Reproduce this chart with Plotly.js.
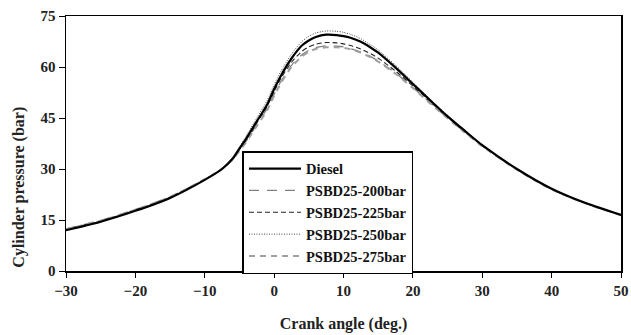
<!DOCTYPE html>
<html>
<head>
<meta charset="utf-8">
<script src="https://cdn.plot.ly/plotly-3.0.1.min.js"></script>
<style>html,body{margin:0;padding:0;background:#fff;}#chart{width:631px;height:335px;}</style>
</head>
<body>
<div id="chart"></div>
<script>
const crankAngle = [-30,-25,-20,-15,-10,-7.5,-6,-5,-4,-2.5,-1,0,1,2.5,4,5,6,7.5,9,10,11,12.5,14,15,17.5,20,22.5,25,27.5,30,35,40,45,50];
const diesel   = [12,14.5,17.7,21.5,26.8,30,33,36,39,44,49,53.5,57.5,62.5,66.3,67.8,68.8,69.5,69.4,69.1,68.6,67.4,65.6,64.2,59.8,55,50.2,45.5,41.2,37,30,24.2,19.9,16.5];
const psbd200  = [12.4,14.9,18.1,21.8,27,30.1,32.8,35.5,38.3,43,47.8,52,55.8,60.5,63.6,64.9,65.7,66.2,66.1,65.9,65.4,64.4,63,61.8,58.2,54,49.5,45,40.8,36.8,29.9,24.1,19.8,16.4];
const psbd225  = [12.2,14.7,17.9,21.7,26.9,30.1,33,35.8,38.7,43.6,48.5,52.8,56.7,61.4,64.6,65.9,66.7,67.2,67.1,66.8,66.3,65.3,63.8,62.6,58.8,54.4,49.8,45.3,41,36.9,29.9,24.1,19.8,16.4];
const psbd250  = [12.1,14.6,17.8,21.6,26.9,30.2,33.3,36.5,39.8,45,50.2,54.8,58.8,63.8,67.5,69,70,70.6,70.5,70.2,69.6,68.3,66.4,65,60.5,55.5,50.5,45.8,41.4,37.1,30.1,24.2,19.9,16.5];
const psbd275  = [12.3,14.8,18,21.8,27,30.1,32.7,35.3,38,42.6,47.3,51.5,55.3,60,63.1,64.5,65.3,65.8,65.8,65.6,65.2,64.2,62.8,61.6,58,53.8,49.3,44.9,40.7,36.7,29.8,24,19.8,16.4];
const seriesNames = ["Diesel","PSBD25-200bar","PSBD25-225bar","PSBD25-250bar","PSBD25-275bar"];
const xTitle = "Crank angle (deg.)";
const yTitle = "Cylinder pressure (bar)";

const serif = "Liberation Serif";
const styles = [
  {color:'#000000', width:2.2, dash:'solid'},
  {color:'#808080', width:1.3, dash:'10px,8px'},
  {color:'#222222', width:1.1, dash:'5px,3px'},
  {color:'#444444', width:1.0, dash:'1px,1.5px'},
  {color:'#a0a0a0', width:2.0, dash:'6px,5px'}
];
const ys = [diesel, psbd200, psbd225, psbd250, psbd275];
const traces = ys.map((y,i)=>({
  x: crankAngle, y: y, type:'scatter', mode:'lines', name: seriesNames[i],
  legendrank: i+1,
  line: Object.assign({shape:'spline', smoothing:0.7}, styles[i])
}));
const order = [1,2,4,3,0];
const data = order.map(i=>traces[i]);

const layout = {
  width:631, height:335,
  margin:{l:66, r:10, t:16, b:64},
  paper_bgcolor:'#fff', plot_bgcolor:'#fff',
  font:{family:serif},
  showlegend:true,
  legend:{
    x:0.318, y:0.47, xanchor:'left', yanchor:'top',
    bordercolor:'#000', borderwidth:1.5, bgcolor:'#fff',
    font:{family:serif, size:14.5, color:'#111', weight:'bold'},
    traceorder:'normal', itemwidth:52, tracegroupgap:0
  },
  xaxis:{
    range:[-30,50], dtick:10, tick0:-30, showgrid:false, zeroline:false,
    showline:true, linecolor:'#000', linewidth:1.5, mirror:true,
    ticks:'outside', ticklen:5, tickwidth:1, tickcolor:'#000',
    tickfont:{family:serif, size:15, color:'#222', weight:'bold'},
    title:{text:xTitle, font:{family:serif, size:16, color:'#222', weight:'bold'}, standoff:20}
  },
  yaxis:{
    range:[0,75], dtick:15, tick0:0, showgrid:false, zeroline:false,
    showline:true, linecolor:'#000', linewidth:1.5, mirror:true,
    ticks:'outside', ticklen:6, tickwidth:1, tickcolor:'#000',
    tickfont:{family:serif, size:15, color:'#222', weight:'bold'}
  },
  annotations:[{
    text:yTitle, xref:'paper', yref:'paper', x:-0.085, y:0.33, xanchor:'center', yanchor:'middle',
    textangle:-90, showarrow:false, font:{family:serif, size:16, color:'#222', weight:'bold'}
  }]
};
Plotly.newPlot('chart', data, layout, {displayModeBar:false, staticPlot:true});
</script>
</body>
</html>
